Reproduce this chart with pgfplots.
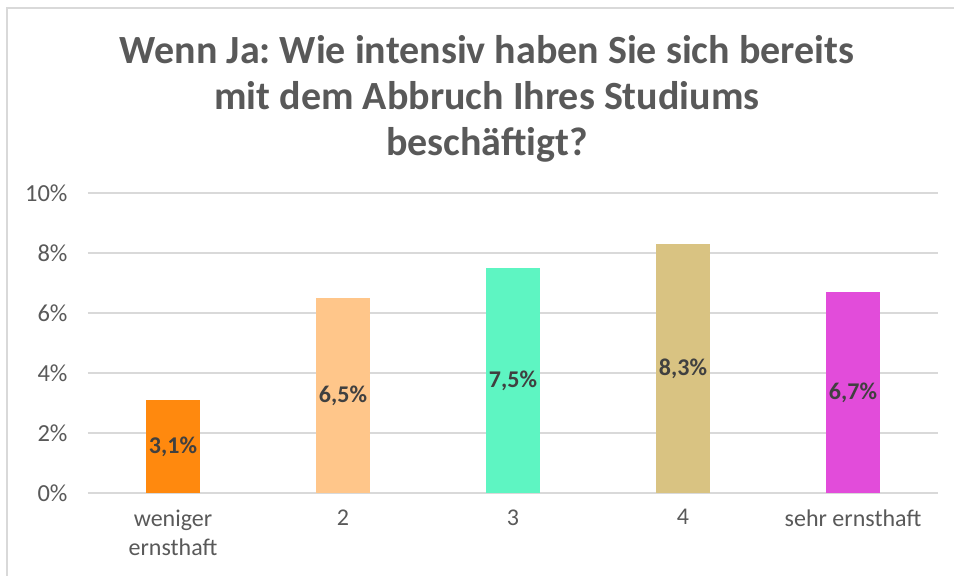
\documentclass[border=0pt]{standalone}
\usepackage{pgfplots}
\pgfplotsset{compat=1.18}
\usepackage{fontspec}
\setmainfont{Carlito}
\frenchspacing
\definecolor{c1}{RGB}{255,137,14}
\definecolor{c2}{RGB}{255,198,138}
\definecolor{c3}{RGB}{94,245,194}
\definecolor{c4}{RGB}{217,195,130}
\definecolor{c5}{RGB}{226,76,218}
\definecolor{gridc}{RGB}{217,217,217}
\definecolor{tickc}{RGB}{89,89,89}
\definecolor{labc}{RGB}{64,64,64}
\begin{document}
\begin{tikzpicture}[x=1pt,y=1pt]
\path[use as bounding box] (0,0) rectangle (954,576);
\draw[gridc,line width=2pt] (7,0) -- (7,568) -- (954,568);
\node[align=center,font=\fontsize{40}{46}\selectfont\bfseries,text=tickc] at (487,477)
  {Wenn Ja: Wie intensiv haben Sie sich bereits\\mit dem Abbruch Ihres Studiums\\beschäftigt?};
\begin{axis}[
  at={(88pt,83pt)}, anchor=south west,
  scale only axis, width=850pt, height=300pt,
  xmin=-0.5, xmax=4.5, ymin=0, ymax=10,
  axis line style={draw=none},
  ytick={0,2,4,6,8,10},
  yticklabels={0\%,2\%,4\%,6\%,8\%,10\%},
  xtick={0,1,2,3,4},
  xticklabels={weniger\\ernsthaft,2,3,4,sehr ernsthaft},
  xticklabel style={align=center,text=tickc,font=\fontsize{24}{29}\selectfont},
  yticklabel style={text=tickc,font=\fontsize{24.5}{29}\selectfont},
  major tick length=0pt,
  ymajorgrids, grid style={gridc,line width=1.5pt},
  xtick pos=bottom, ytick pos=left,
  yticklabel shift=17pt, xticklabel shift=13pt,
  clip=false,
]
\addplot[ybar, bar width=54pt, fill=c1, draw=none] coordinates {(0,3.1)};
\addplot[ybar, bar width=54pt, fill=c2, draw=none] coordinates {(1,6.5)};
\addplot[ybar, bar width=54pt, fill=c3, draw=none] coordinates {(2,7.5)};
\addplot[ybar, bar width=54pt, fill=c4, draw=none] coordinates {(3,8.3)};
\addplot[ybar, bar width=54pt, fill=c5, draw=none] coordinates {(4,6.7)};
\addplot[only marks, mark=none, nodes near coords, point meta=explicit symbolic,
  nodes near coords style={anchor=center, text=labc, font=\fontsize{24}{29}\selectfont\bfseries}]
  coordinates {(0,1.55)[3,1\%] (1,3.25)[6,5\%] (2,3.75)[7,5\%] (3,4.15)[8,3\%] (4,3.35)[6,7\%]};
\end{axis}
\end{tikzpicture}
\end{document}
